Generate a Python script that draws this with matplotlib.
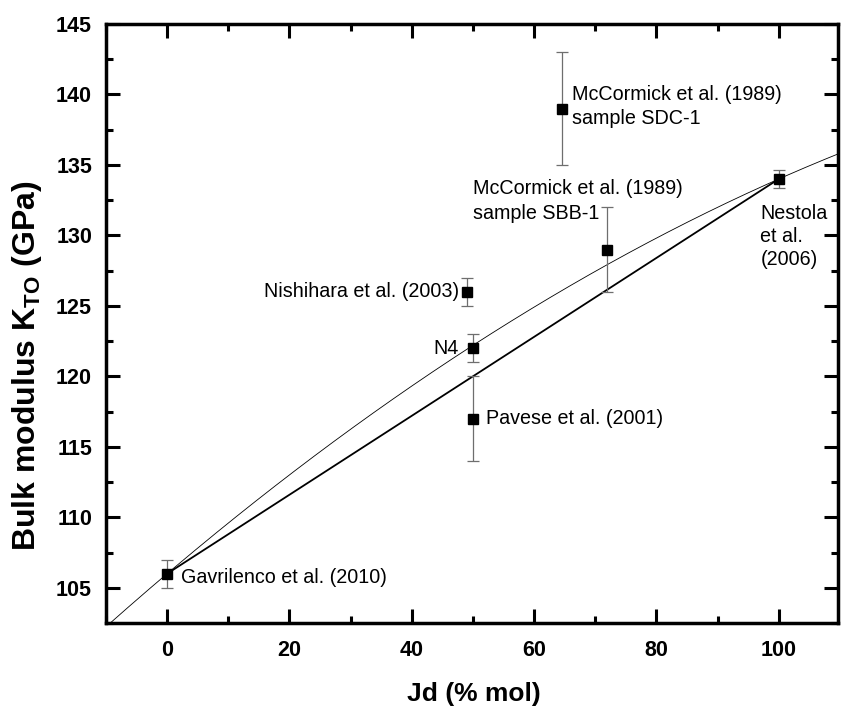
import matplotlib
matplotlib.use("Agg")
import matplotlib.pyplot as plt
import numpy as np
from matplotlib.ticker import MultipleLocator

plt.rcParams['font.family'] = ['Liberation Sans', 'DejaVu Sans']
plt.rcParams['mathtext.fontset'] = 'custom'
plt.rcParams['mathtext.rm'] = 'Liberation Sans'
plt.rcParams['mathtext.bf'] = 'Liberation Sans:bold'

# data
jd = [0, 49, 50, 50, 72, 64.5, 100]
k = [106, 126, 122, 117, 129, 139, 134]
kerr = [1, 1, 1, 3, 3, 4, 0.65]
labels = ["Gavrilenco et al. (2010)", "Nishihara et al. (2003)", "N4",
          "Pavese et al. (2001)", "McCormick et al. (1989)\nsample SBB-1",
          "McCormick et al. (1989)\nsample SDC-1", "Nestola\net al.\n(2006)"]
# straight line between end members
line_x = [0, 100]
line_y = [106, 134]
# quadratic fit curve coefficients (c0 + c1 x + c2 x^2)
fit_coef = [106.0, 0.368, -0.00088]

fig = plt.figure(figsize=(8.41, 7.08), dpi=100)
ax = fig.add_axes([106/841, 1-623/708, (838-106)/841, (623-24)/708])

xx = np.linspace(-10, 110, 300)
yy = fit_coef[0] + fit_coef[1]*xx + fit_coef[2]*xx**2
ax.plot(xx, yy, color='black', lw=0.6)
ax.plot(line_x, line_y, color='black', lw=1.3)

ax.errorbar(jd, k, yerr=kerr, fmt='none', ecolor='#6e6e6e', elinewidth=0.9,
            capsize=4, capthick=0.9)
ax.plot(jd, k, 's', color='black', ms=7, ls='none')

fs = 14.2
ax.text(2.3, 105.75, labels[0], fontsize=fs, va='center', ha='left')
ax.text(47.8, 126, labels[1], fontsize=fs, va='center', ha='right')
ax.text(47.7, 122, labels[2], fontsize=fs, va='center', ha='right')
ax.text(52.2, 117, labels[3], fontsize=fs, va='center', ha='left')
ax.text(50.0, 132.45, labels[4], fontsize=fs, va='center', ha='left', linespacing=1.35)
ax.text(66.2, 139.15, labels[5], fontsize=fs, va='center', ha='left', linespacing=1.35)
ax.text(97.0, 129.9, labels[6], fontsize=fs, va='center', ha='left', linespacing=1.27)

ax.set_xlim(-10, 109.7)
ax.set_ylim(102.5, 145)
ax.xaxis.set_major_locator(MultipleLocator(20))
ax.xaxis.set_minor_locator(MultipleLocator(10))
ax.yaxis.set_major_locator(MultipleLocator(5))
ax.yaxis.set_minor_locator(MultipleLocator(2.5))
ax.tick_params(which='both', direction='in', top=True, right=True, width=2.2)
ax.tick_params(which='major', length=10, labelsize=15.5)
ax.tick_params(axis='x', which='major', pad=12)
ax.tick_params(axis='y', which='major', pad=10)
ax.tick_params(which='minor', length=5)
ax.tick_params(labeltop=False, labelright=False)
for lab in ax.get_xticklabels() + ax.get_yticklabels():
    lab.set_fontweight('bold')
for s in ax.spines.values():
    s.set_linewidth(2.5)

ax.set_xlabel("Jd (% mol)", fontsize=19, fontweight='bold')
ax.xaxis.set_label_coords((474-106)/732, -(694-623)/599)
ax.xaxis.label.set_va('center')
ax.set_ylabel(r"Bulk modulus K$_{\mathbf{TO}}$ (GPa)", fontsize=23, fontweight='bold')
ax.yaxis.set_label_coords(-(106-27)/732, (623-366)/599)
ax.yaxis.label.set_va('center')

fig.savefig("out.png", dpi=100)
